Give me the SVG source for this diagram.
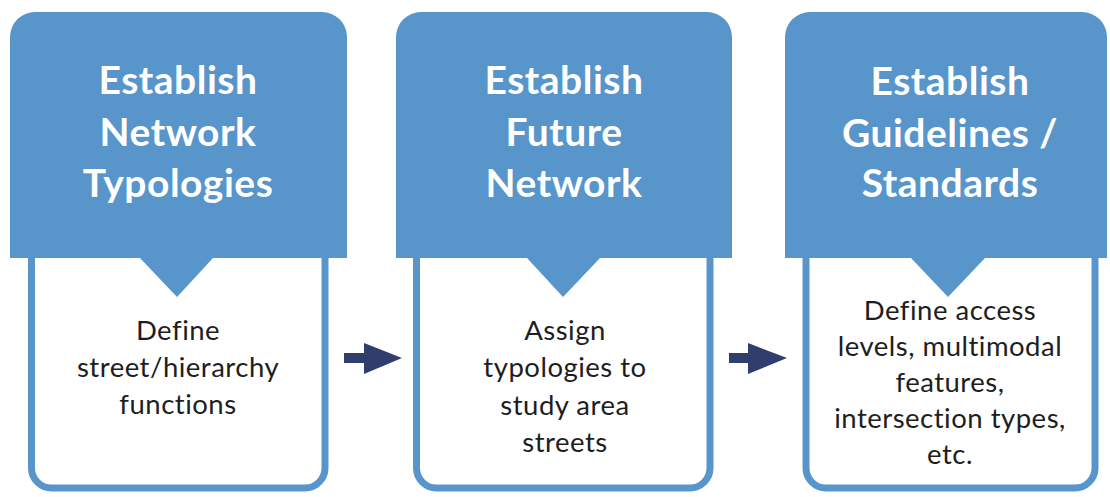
<svg xmlns="http://www.w3.org/2000/svg" width="1110" height="497" viewBox="0 0 1110 497">
<defs>
<style>
.hdr{fill:#5795cb}
.box{fill:#ffffff;stroke:#5795cb;stroke-width:7}
.ht{font-family:Lato,"Open Sans",sans-serif;font-weight:bold;font-size:39px;letter-spacing:0.5px;fill:#ffffff;text-anchor:middle}
.bt{font-family:Lato,"Open Sans",sans-serif;font-size:27.5px;letter-spacing:0.5px;fill:#1e1e1e;text-anchor:middle}
.arr{fill:#2f3e6c}
</style>
</defs>
<rect width="1110" height="497" fill="#ffffff"/>
<g id="step1">
<path class="box" d="M31.5 250 V468 A20 20 0 0 0 51.5 488 H305 A20 20 0 0 0 325 468 V250"/>
<path class="hdr" d="M10 258 V37 A25 25 0 0 1 35 12 H322 A25 25 0 0 1 347 37 V258 H213 L177 297 L140 258 Z"/>
<text class="ht" x="178" y="94">Establish</text>
<text class="ht" x="178" y="146">Network</text>
<text class="ht" x="178" y="197">Typologies</text>
<text class="bt" x="178" y="340">Define</text>
<text class="bt" x="178" y="377">street/hierarchy</text>
<text class="bt" x="178" y="414">functions</text>
</g>
<g id="step2">
<path class="box" d="M416.5 250 V468 A20 20 0 0 0 436.5 488 H690 A20 20 0 0 0 710 468 V250"/>
<path class="hdr" d="M396 258 V37 A25 25 0 0 1 421 12 H707 A25 25 0 0 1 732 37 V258 H600 L563 297 L527 258 Z"/>
<text class="ht" x="564" y="94">Establish</text>
<text class="ht" x="564" y="146">Future</text>
<text class="ht" x="564" y="197">Network</text>
<text class="bt" x="565" y="340">Assign</text>
<text class="bt" x="565" y="377">typologies to</text>
<text class="bt" x="565" y="415">study area</text>
<text class="bt" x="565" y="452">streets</text>
</g>
<g id="step3">
<path class="box" d="M806 250 V468 A20 20 0 0 0 826 488 H1075 A20 20 0 0 0 1095 468 V250"/>
<path class="hdr" d="M785 258 V37 A25 25 0 0 1 810 12 H1082 A25 25 0 0 1 1107 37 V258 H985 L948 297 L911 258 Z"/>
<text class="ht" x="950" y="95">Establish</text>
<text class="ht" x="950" y="147">Guidelines /</text>
<text class="ht" x="950" y="197">Standards</text>
<text class="bt" x="950" y="320">Define access</text>
<text class="bt" x="950" y="356">levels, multimodal</text>
<text class="bt" x="950" y="392">features,</text>
<text class="bt" x="950" y="428">intersection types,</text>
<text class="bt" x="950" y="464">etc.</text>
</g>
<g id="connectors">
<path class="arr" d="M344 353 H364 V343 L402 358 L364 374 V363 H344 Z"/>
<path class="arr" d="M729 353 H748 V343 L787 358 L748 374 V363 H729 Z"/>
</g>
</svg>
